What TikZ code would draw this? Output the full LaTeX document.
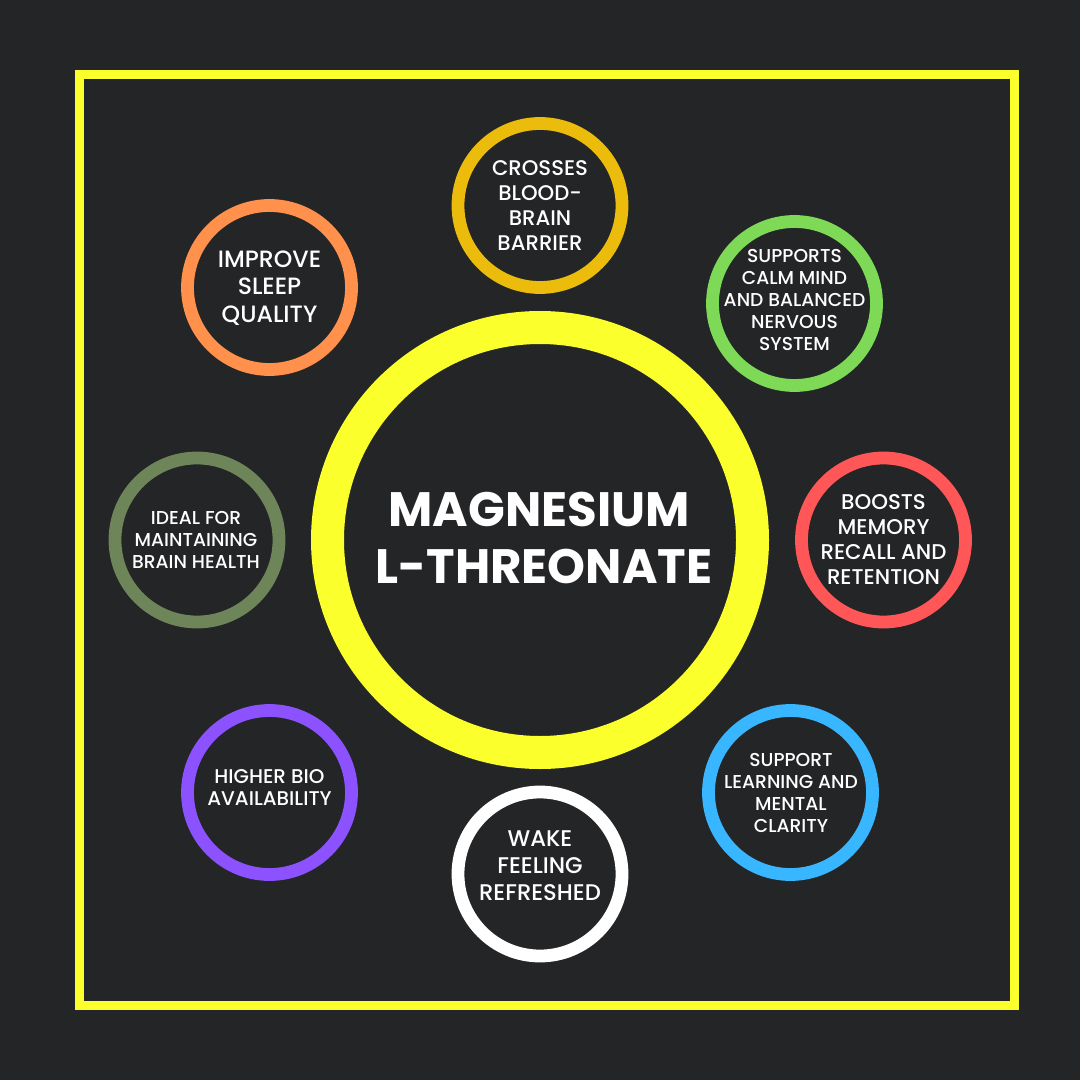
\documentclass[tikz,border=0pt]{standalone}
\usepackage{fontspec}
\setmainfont{Poppins}[UprightFont=* Medium,BoldFont=* Bold]
\definecolor{bg}{HTML}{242527}
\definecolor{yel}{HTML}{FBFF2B}
\definecolor{cGold}{HTML}{EBBC0C}
\definecolor{cGreen}{HTML}{7ED957}
\definecolor{cRed}{HTML}{FF5757}
\definecolor{cBlue}{HTML}{38B6FF}
\definecolor{cPurple}{HTML}{8C52FF}
\definecolor{cOlive}{HTML}{6E8559}
\definecolor{cOrange}{HTML}{FF914D}
\tikzset{
 ring/.style={circle,draw=#1,line width=9.6pt,minimum size=123pt,inner sep=0pt,outer sep=0pt},
 lbl/.style={text=white,align=center,inner sep=0pt},
 sxl/.style={lbl,font=\fontsize{17.7pt}{20.7pt}\selectfont},
 swk/.style={lbl,font=\fontsize{17pt}{20.25pt}\selectfont},
 slg/.style={lbl,font=\fontsize{15.9pt}{18.75pt}\selectfont},
 sbo/.style={lbl,font=\fontsize{16pt}{18.75pt}\selectfont},
 smd/.style={lbl,font=\fontsize{14pt}{16.5pt}\selectfont},
 shi/.style={lbl,font=\fontsize{14.9pt}{16.5pt}\selectfont},
}
\begin{document}
\begin{tikzpicture}[x=0.75pt,y=-0.75pt]
\useasboundingbox (0,0) rectangle (1080,1080);
\fill[bg] (0,0) rectangle (1080,1080);
\draw[yel,line width=7pt] (79.5,74.5) rectangle (1014.5,1005.5);
\node[circle,draw=yel,line width=24.75pt,minimum size=318.75pt,inner sep=0pt,outer sep=0pt] (hub) at (540,540) {};
\node[lbl,font=\fontsize{36.2pt}{42.75pt}\selectfont\bfseries] (title) at (544,538) {MAGNESIUM\rule{7.5pt}{0pt}\\L-THREONATE};
\node[ring=cGold] (barrier) at (540,205.5) {};
\node[slg] (barrierT) at (540,205.5) {CROSSES\\BLOOD-\\BRAIN\\BARRIER};
\node[ring=cGreen] (calm) at (794.5,303.5) {};
\node[smd] (calmT) at (794.5,300) {SUPPORTS\\CALM MIND\\AND BALANCED\\NERVOUS\\SYSTEM};
\node[ring=cRed] (memory) at (883.5,540) {};
\node[sbo] (memoryT) at (883.5,540) {BOOSTS\\MEMORY\\RECALL AND\\RETENTION};
\node[ring=cBlue] (learning) at (790.5,792.5) {};
\node[smd] (learningT) at (791,792.5) {SUPPORT\\LEARNING AND\\MENTAL\\CLARITY};
\node[ring=white] (wake) at (540,874) {};
\node[swk] (wakeT) at (540,866) {WAKE\\FEELING\\REFRESHED};
\node[ring=cPurple] (bio) at (269.5,792.5) {};
\node[shi] (bioT) at (269.5,787.5) {HIGHER BIO\\AVAILABILITY};
\node[ring=cOlive] (ideal) at (197,540) {};
\node[smd] (idealT) at (196,540) {IDEAL FOR\\MAINTAINING\\BRAIN HEALTH};
\node[ring=cOrange] (sleep) at (269.5,287.5) {};
\node[sxl] (sleepT) at (269.5,288) {IMPROVE\\SLEEP\\QUALITY};
\end{tikzpicture}
\end{document}
